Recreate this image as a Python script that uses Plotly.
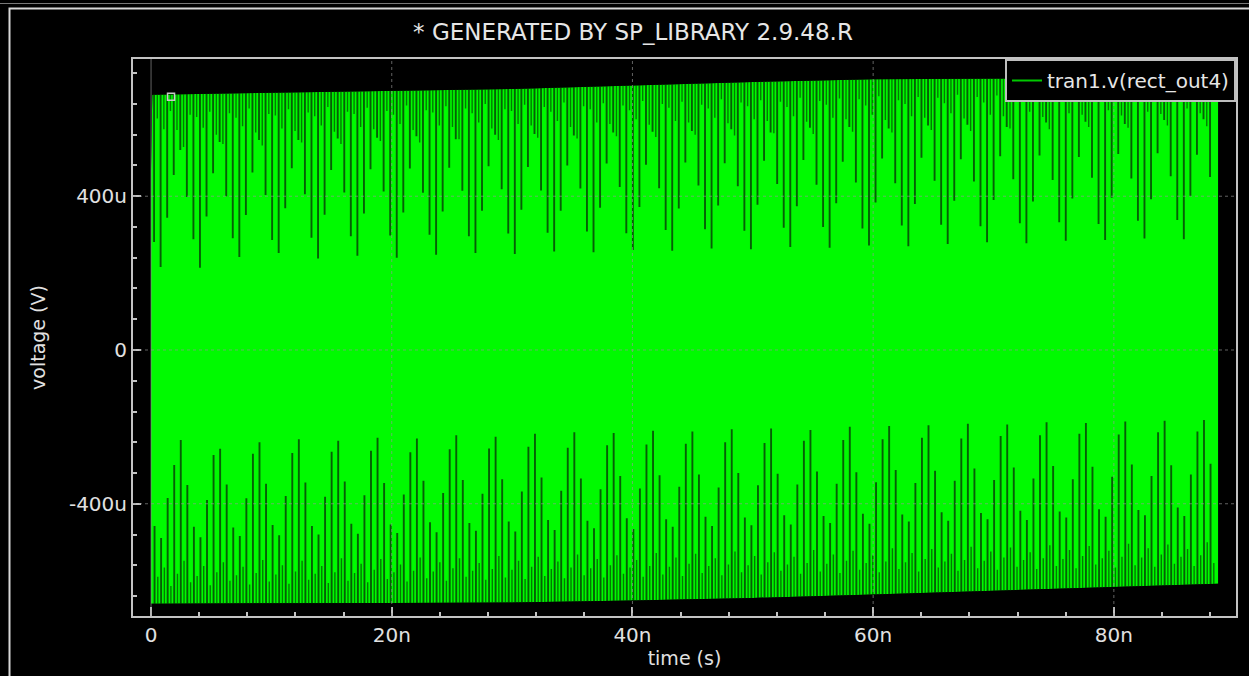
import plotly.graph_objects as go

# ---------------- text / ticks ----------------
title_text = "* GENERATED BY SP_LIBRARY 2.9.48.R"
trace_name = "tran1.v(rect_out4)"
x_title = "time (s)"
y_title = "voltage (V)"
x_tick_vals = [0, 20, 40, 60, 80]          # ns
x_tick_text = ["0", "20n", "40n", "60n", "80n"]
y_tick_vals = [-400, 0, 400]               # uV
y_tick_text = ["-400u", "0", "400u"]

# ---------------- waveform envelope (time in ns, voltage in uV) ----------------
env_t_ns = [0.0, 0.1, 10, 20, 30, 40, 50, 60, 70, 80, 88.66]
upper_uv = [470, 664, 669, 674, 679, 688, 697, 704, 706, 708, 709]
lower_uv = [-660, -660, -659, -658, -657, -652, -645, -636, -626, -616, -608]

# cursor marker
marker_t_ns = [1.66]
marker_uv = [659]

# ---------------- notches of the dense trace (sample grid in ns) ----------------
spike_dt_ns = 0.545
top_t0_ns = 0.25
bot_t0_ns = 0.29
sec_offset_ns = 0.27

# lowest point reached by the dips from the top envelope (uV), one row per beat
top_dip_rows = [
    [281, 216, 344, 455, 520, 398], [288, 214, 347, 460, 541, 400],
    [291, 242, 351, 462, 546, 403], [286, 252, 369, 473, 546, 405],
    [292, 238, 352, 468, 550, 410], [296, 245, 355, 470, 552, 412],
    [298, 240, 358, 472, 556, 409], [300, 248, 360, 474, 548, 414],
    [296, 252, 362, 478, 560, 418], [303, 250, 365, 476, 562, 415],
    [305, 256, 362, 480, 558, 420], [308, 254, 370, 485, 566, 424],
    [304, 260, 372, 482, 568, 421], [312, 258, 368, 488, 570, 428],
    [314, 264, 376, 486, 574, 426], [310, 262, 378, 492, 566, 432],
    [318, 268, 374, 494, 578, 430], [320, 266, 382, 490, 580, 436],
    [316, 272, 384, 498, 576, 434], [324, 270, 380, 500, 584, 440],
    [326, 276, 388, 496, 586, 438], [322, 280, 390, 504, 580, 444],
    [330, 278, 386, 506, 592, 442], [332, 284, 394, 502, 594, 448],
    [328, 286, 396, 510, 588, 446], [336, 290, 392, 512, 598, 452],
    [338, 288, 400, 508, 600, 450],
]
top_minor_rows = [
    [602, 574, 622, 572, 528, 612], [606, 578, 620, 560, 536, 616],
    [604, 582, 628, 566, 532, 614], [610, 576, 626, 570, 540, 618],
    [608, 584, 632, 568, 536, 620], [614, 580, 630, 574, 544, 622],
    [612, 588, 636, 572, 540, 624], [618, 584, 634, 580, 548, 628],
    [616, 592, 640, 576, 546, 626], [622, 588, 638, 584, 552, 632],
    [620, 596, 644, 580, 550, 634], [626, 592, 642, 588, 556, 636],
    [624, 600, 648, 586, 554, 640], [630, 596, 646, 592, 560, 638],
    [628, 604, 652, 590, 558, 644], [634, 600, 650, 596, 564, 646],
    [632, 608, 656, 594, 562, 648], [638, 604, 654, 600, 568, 652],
    [636, 612, 660, 598, 566, 650], [640, 608, 658, 604, 572, 656],
    [642, 616, 664, 602, 570, 658], [644, 612, 662, 608, 576, 660],
    [646, 620, 668, 606, 574, 662], [648, 616, 666, 612, 580, 664],
    [650, 624, 670, 610, 578, 666], [652, 620, 668, 614, 584, 668],
    [654, 628, 672, 616, 582, 670],
]
# highest point reached by the dips from the bottom envelope (uV)
bot_dip_rows = [
    [-458, -489, -385, -299, -234, -351], [-460, -487, -390, -273, -257, -350],
    [-462, -484, -386, -270, -240, -348], [-455, -482, -380, -268, -232, -345],
    [-458, -480, -382, -265, -236, -342], [-452, -478, -378, -262, -228, -346],
    [-454, -476, -376, -266, -230, -340], [-448, -474, -372, -258, -222, -338],
    [-450, -470, -374, -256, -226, -336], [-446, -472, -368, -252, -218, -332],
    [-442, -468, -366, -254, -214, -334], [-444, -464, -362, -248, -216, -328],
    [-438, -466, -360, -246, -210, -326], [-440, -460, -356, -244, -212, -324],
    [-434, -458, -358, -240, -206, -320], [-436, -456, -352, -242, -204, -322],
    [-430, -454, -350, -236, -208, -316], [-432, -450, -348, -234, -200, -318],
    [-426, -452, -344, -232, -198, -312], [-428, -446, -346, -228, -196, -314],
    [-422, -444, -340, -230, -192, -308], [-424, -440, -338, -224, -194, -306],
    [-418, -442, -334, -222, -188, -302], [-420, -436, -336, -218, -190, -304],
    [-414, -434, -330, -220, -186, -298], [-416, -430, -328, -214, -184, -300],
    [-410, -432, -324, -212, -182, -296],
]
bot_minor_rows = [
    [-590, -566, -614, -582, -548, -604], [-588, -562, -612, -578, -552, -600],
    [-586, -564, -610, -580, -546, -602], [-584, -560, -608, -576, -548, -598],
    [-582, -562, -606, -578, -542, -600], [-580, -556, -604, -572, -544, -596],
    [-578, -558, -602, -574, -540, -594], [-576, -552, -600, -568, -542, -590],
    [-574, -554, -598, -570, -536, -592], [-572, -548, -596, -564, -538, -588],
    [-570, -550, -594, -566, -532, -586], [-568, -544, -592, -560, -534, -582],
    [-566, -546, -590, -562, -528, -584], [-564, -540, -588, -556, -530, -580],
    [-562, -542, -586, -558, -524, -578], [-560, -536, -584, -552, -526, -574],
    [-558, -538, -582, -554, -520, -576], [-556, -532, -580, -548, -522, -572],
    [-554, -534, -578, -550, -516, -570], [-552, -528, -576, -544, -518, -566],
    [-550, -530, -574, -546, -512, -568], [-548, -524, -572, -540, -514, -564],
    [-546, -526, -570, -542, -508, -562], [-544, -520, -568, -536, -510, -558],
    [-542, -522, -566, -538, -504, -560], [-540, -516, -564, -532, -506, -556],
    [-538, -518, -562, -534, -500, -554],
]

# ---------------- style ----------------
GREEN = "rgb(0,250,0)"
DARK = "rgb(6,95,6)"
MID = "rgb(0,125,0)"
FG = "rgb(225,225,225)"
AX = "rgb(195,195,195)"
FONT = "DejaVu Sans"
X_RANGE = [-1.5, 90.15]
Y_RANGE = [-692, 757]
Y_FAR = 2000


def flat(rows):
    return [v for r in rows for v in r]


def grid(t0, n):
    return [round(t0 + i * spike_dt_ns, 4) for i in range(n)]


def segments(ts, vs, far):
    xs, ys = [], []
    for t, v in zip(ts, vs):
        xs += [t, t, None]
        ys += [v, far, None]
    return xs, ys


top_dips = flat(top_dip_rows)
top_minor = flat(top_minor_rows)
bot_dips = flat(bot_dip_rows)
bot_minor = flat(bot_minor_rows)
top_t = grid(top_t0_ns, len(top_dips))
bot_t = grid(bot_t0_ns, len(bot_dips))
top_t2 = grid(top_t0_ns + sec_offset_ns, len(top_minor))
bot_t2 = grid(bot_t0_ns + sec_offset_ns, len(bot_minor))

fig = go.Figure()

# green band of the dense trace
fig.add_trace(go.Scatter(x=env_t_ns, y=lower_uv, mode="lines",
                         line=dict(width=0, color=GREEN), showlegend=False,
                         hoverinfo="skip"))
fig.add_trace(go.Scatter(x=env_t_ns, y=upper_uv, mode="lines", fill="tonexty",
                         fillcolor=GREEN, line=dict(width=0, color=GREEN),
                         showlegend=False, hoverinfo="skip"))

# notches
for ts, vs, far, col, w in [
    (top_t2, top_minor, Y_FAR, MID, 1.4),
    (bot_t2, bot_minor, -Y_FAR, MID, 1.4),
    (top_t, top_dips, Y_FAR, DARK, 1.9),
    (bot_t, bot_dips, -Y_FAR, DARK, 1.9),
]:
    xs, ys = segments(ts, vs, far)
    fig.add_trace(go.Scatter(x=xs, y=ys, mode="lines",
                             line=dict(color=col, width=w),
                             showlegend=False, hoverinfo="skip"))

# black masks outside the envelope
fig.add_trace(go.Scatter(x=env_t_ns + [env_t_ns[-1], env_t_ns[0]],
                         y=upper_uv + [Y_FAR, Y_FAR], mode="lines",
                         fill="toself", fillcolor="black",
                         line=dict(width=0, color="black"),
                         showlegend=False, hoverinfo="skip"))
fig.add_trace(go.Scatter(x=env_t_ns + [env_t_ns[-1], env_t_ns[0]],
                         y=lower_uv + [-Y_FAR, -Y_FAR], mode="lines",
                         fill="toself", fillcolor="black",
                         line=dict(width=0, color="black"),
                         showlegend=False, hoverinfo="skip"))

# cursor marker
fig.add_trace(go.Scatter(x=marker_t_ns, y=marker_uv, mode="markers",
                         marker=dict(symbol="square-open", size=7,
                                     color="rgb(200,200,200)",
                                     line=dict(width=1.5)),
                         showlegend=False, hoverinfo="skip"))

# legend entry
fig.add_trace(go.Scatter(x=[None], y=[None], mode="lines", name=trace_name,
                         line=dict(color="rgb(0,200,0)", width=2)))

shapes = []
for xv in x_tick_vals:
    shapes.append(dict(type="line", xref="x", yref="paper", x0=xv, x1=xv,
                       y0=0, y1=1, layer="above",
                       line=dict(color="rgba(150,150,150,0.65)", width=1,
                                 dash="solid" if xv == 0 else "dot")))
for yv in y_tick_vals:
    shapes.append(dict(type="line", xref="paper", yref="y", x0=0, x1=1,
                       y0=yv, y1=yv, layer="above",
                       line=dict(color="rgba(150,150,150,0.65)", width=1,
                                 dash="dot")))

# outer frame of the window
W, H = 1249, 676
L, R, T, B = 133, 13, 59, 60
pw, ph = W - L - R, H - T - B


def px(xp):
    return (xp - L) / pw


def py(yp):
    return (H - B - yp) / ph


shapes.append(dict(type="rect", xref="paper", yref="paper",
                   x0=px(9.5), x1=px(1320), y0=py(720), y1=py(8.5),
                   line=dict(color="rgb(215,215,215)", width=2), layer="above"))
shapes.append(dict(type="line", xref="paper", yref="paper",
                   x0=px(0), x1=px(1260), y0=py(3.5), y1=py(3.5),
                   line=dict(color="rgb(120,120,120)", width=1), layer="above"))

axis_common = dict(
    showline=True, linecolor=AX, linewidth=2, mirror=True,
    showgrid=False, zeroline=False, ticks="inside", tickcolor=AX,
    tickwidth=2, tickfont=dict(family=FONT, size=20, color=FG),
)

fig.update_layout(
    width=W, height=H,
    margin=dict(l=L, r=R, t=T, b=B, pad=0),
    paper_bgcolor="black", plot_bgcolor="black",
    font=dict(family=FONT, color=FG, size=20),
    title=dict(text=title_text, xref="container", yref="container",
               x=633 / W, xanchor="center", y=1 - 32 / H, yanchor="middle",
               font=dict(family=FONT, size=23, color="rgb(230,230,230)")),
    showlegend=True,
    legend=dict(x=1, xanchor="right", y=1, yanchor="top",
                bgcolor="black", bordercolor="rgb(190,190,190)", borderwidth=2,
                font=dict(family=FONT, size=20, color="rgb(230,230,230)")),
    xaxis=dict(range=X_RANGE, tickmode="array", tickvals=x_tick_vals,
               ticktext=x_tick_text, ticklen=9,
               minor=dict(tickmode="linear", tick0=0, dtick=4, ticks="inside",
                          ticklen=4, tickcolor=AX, tickwidth=1.5),
               title=dict(text=x_title, standoff=2,
                          font=dict(family=FONT, size=19, color=FG)),
               **axis_common),
    yaxis=dict(range=Y_RANGE, tickmode="array", tickvals=y_tick_vals,
               ticktext=y_tick_text, ticklen=8,
               minor=dict(tickmode="linear", tick0=0, dtick=80, ticks="inside",
                          ticklen=4, tickcolor=AX, tickwidth=1.5),
               title=dict(text=y_title, standoff=18,
                          font=dict(family=FONT, size=19, color=FG)),
               **axis_common),
    shapes=shapes,
)

fig.write_html("out.html")
